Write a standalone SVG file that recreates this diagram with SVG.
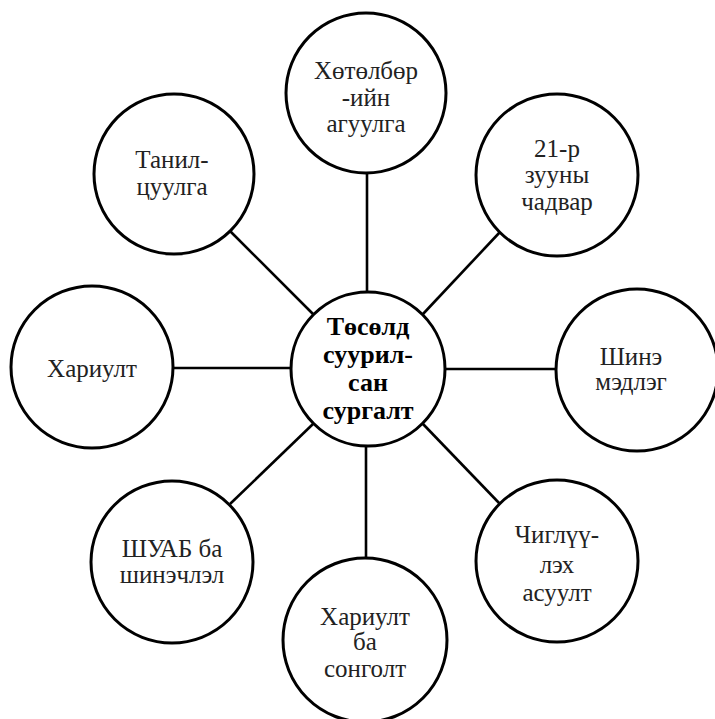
<svg xmlns="http://www.w3.org/2000/svg" width="715" height="719" viewBox="0 0 715 719">
<style>
.n{fill:#fff;stroke:#000;stroke-width:3}
.c line{stroke:#000;stroke-width:2.6}
text{font-family:'Liberation Serif','DejaVu Serif',serif;font-size:25px;fill:#222;text-anchor:middle}
.b{font-weight:bold;font-size:26px;fill:#000}
</style>
<rect width="715" height="719" fill="#fff"/>
<g class="c" id="connectors">
<line x1="367" y1="173" x2="367" y2="292"/>
<line x1="230" y1="231" x2="313" y2="314"/>
<line x1="500" y1="232" x2="423" y2="314"/>
<line x1="173" y1="368" x2="291" y2="368"/>
<line x1="445" y1="369" x2="556" y2="369"/>
<line x1="230" y1="504" x2="313" y2="424"/>
<line x1="500" y1="504" x2="423" y2="424"/>
<line x1="366" y1="446" x2="366" y2="558"/>
</g>
<g id="top"><circle class="n" cx="366" cy="93" r="80"/><text x="366" y="79">Хөтөлбөр</text><text x="366" y="106">-ийн</text><text x="366" y="132">агуулга</text></g>
<g id="tanil"><circle class="n" cx="174" cy="174" r="80"/><text x="172" y="168">Танил-</text><text x="172" y="195">цуулга</text></g>
<g id="c21"><circle class="n" cx="557" cy="175" r="81"/><text x="557" y="157">21-р</text><text x="557" y="183">зууны</text><text x="557" y="210">чадвар</text></g>
<g id="khariult"><circle class="n" cx="92" cy="367" r="81"/><text x="92" y="377">Хариулт</text></g>
<g id="shine"><circle class="n" cx="637" cy="370" r="81"/><text x="631" y="365">Шинэ</text><text x="631" y="390">мэдлэг</text></g>
<g id="center"><circle class="n" cx="368" cy="369" r="77"/><text class="b" x="368" y="335">Төсөлд</text><text class="b" x="368" y="363">суурил-</text><text class="b" x="368" y="391">сан</text><text class="b" x="368" y="419">сургалт</text></g>
<g id="shuab"><circle class="n" cx="172" cy="562" r="81"/><text x="172" y="557">ШУАБ ба</text><text x="172" y="583">шинэчлэл</text></g>
<g id="chiglu"><circle class="n" cx="557" cy="561" r="81"/><text x="557" y="543">Чиглүү-</text><text x="557" y="573">лэх</text><text x="557" y="601">асуулт</text></g>
<g id="bottom"><circle class="n" cx="365" cy="640" r="82"/><text x="365" y="625">Хариулт</text><text x="365" y="650">ба</text><text x="365" y="677">сонголт</text></g>
</svg>
